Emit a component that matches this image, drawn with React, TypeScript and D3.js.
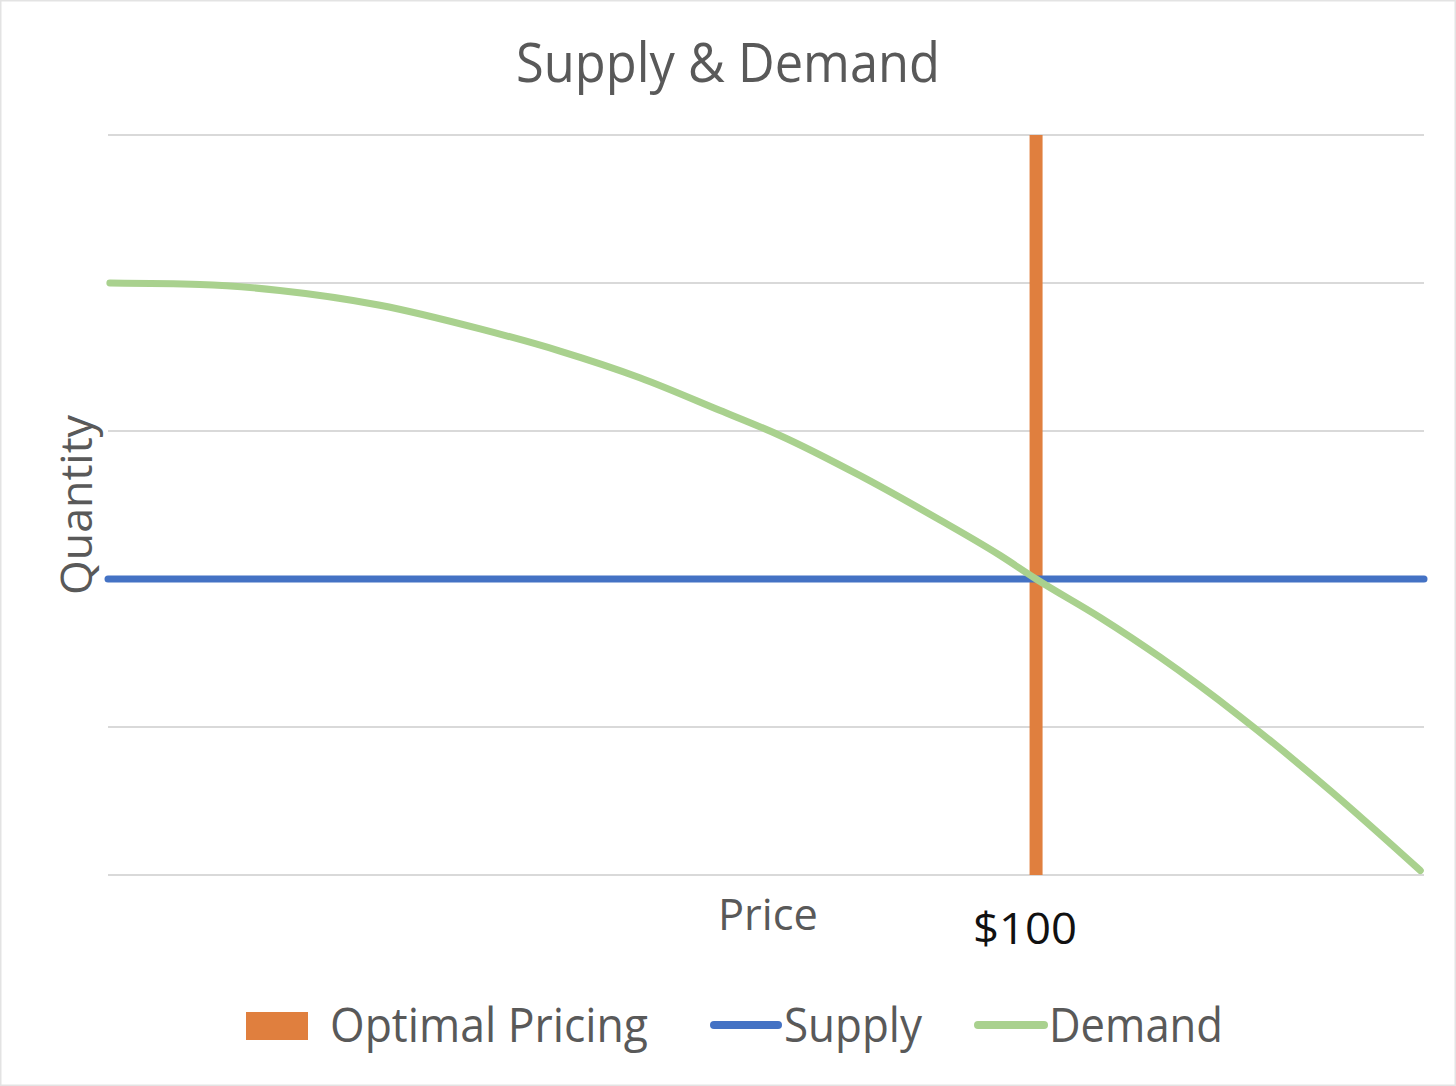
import React from "react";
import * as d3 from "d3";

const title = "Supply & Demand";
const xAxisTitle = "Price";
const yAxisTitle = "Quantity";
const optimalPrice = 100;
const optimalLabel = "$100";
const optimalHeight = 5;
const yTicks = [0, 1, 2, 3, 4, 5];
const supplyPrices = [0, 141.8];
const supplyQty = [2, 2];
const demandPrices = [0.2, 9.9, 18.5, 29.3, 40.1, 48.7, 57.3, 65.9, 72.4, 81.0, 89.6, 96.1, 100, 106.9, 113.4, 122.0, 131.7, 141.4];
const demandQty = [4.0, 3.99, 3.95, 3.85, 3.69, 3.54, 3.36, 3.14, 2.97, 2.7, 2.4, 2.16, 2.0, 1.74, 1.47, 1.07, 0.57, 0.03];
const legendItems = ["Optimal Pricing", "Supply", "Demand"];

const W = 1456;
const H = 1086;
const left = 108;
const right = 1424;
const top = 135;
const bottom = 875;

export default function App() {
  const x = d3.scaleLinear().domain([0, 141.8]).range([left, right]);
  const y = d3.scaleLinear().domain([0, 5]).range([bottom, top]);
  const line = d3
    .line<[number, number]>()
    .x((d) => x(d[0]))
    .y((d) => y(d[1]))
    .curve(d3.curveMonotoneX);
  const supply = supplyPrices.map((p, i) => [p, supplyQty[i]] as [number, number]);
  const demand = demandPrices.map((p, i) => [p, demandQty[i]] as [number, number]);
  const barW = 13;
  const font = "'Open Sans', 'Noto Sans', sans-serif";
  const gray = "#595959";

  return (
    <svg
      width={W}
      height={H}
      style={{ position: "absolute", left: 0, top: 0, background: "#fff" }}
      fontFamily={font}
    >
      <rect x={0.5} y={0.5} width={W - 1} height={H - 1} fill="#fff" stroke="#e3e3e3" strokeWidth={2} />
      <text x={728} y={82} textAnchor="middle" fontSize={54} fill={gray} textLength={424} lengthAdjust="spacingAndGlyphs">
        {title}
      </text>
      {yTicks.map((t) => (
        <line key={t} x1={left} x2={right} y1={y(t)} y2={y(t)} stroke="#d9d9d9" strokeWidth={2} />
      ))}
      <rect
        x={x(optimalPrice) - barW / 2}
        y={y(optimalHeight)}
        width={barW}
        height={y(0) - y(optimalHeight)}
        fill="#E07F3E"
      />
      <path d={line(supply) || ""} fill="none" stroke="#4472C4" strokeWidth={7} strokeLinecap="round" />
      <path d={line(demand) || ""} fill="none" stroke="#A9D18E" strokeWidth={7} strokeLinecap="round" strokeLinejoin="round" />
      <text x={1025} y={944} textAnchor="middle" fontSize={44} fill="#111" textLength={104} lengthAdjust="spacingAndGlyphs">
        {optimalLabel}
      </text>
      <text x={768} y={930} textAnchor="middle" fontSize={44} fill={gray} textLength={100} lengthAdjust="spacingAndGlyphs">
        {xAxisTitle}
      </text>
      <text
        transform={`translate(92,505) rotate(-90)`}
        textAnchor="middle"
        fontSize={44}
        fill={gray}
        textLength={180}
        lengthAdjust="spacingAndGlyphs"
      >
        {yAxisTitle}
      </text>
      <g>
        <rect x={246} y={1012} width={62} height={28} fill="#E07F3E" />
        <text x={330} y={1042} fontSize={48} fill={gray} textLength={318} lengthAdjust="spacingAndGlyphs">
          {legendItems[0]}
        </text>
        <line x1={714} x2={778} y1={1025} y2={1025} stroke="#4472C4" strokeWidth={8} strokeLinecap="round" />
        <text x={784} y={1042} fontSize={48} fill={gray} textLength={138} lengthAdjust="spacingAndGlyphs">
          {legendItems[1]}
        </text>
        <line x1={978} x2={1044} y1={1025} y2={1025} stroke="#A9D18E" strokeWidth={8} strokeLinecap="round" />
        <text x={1049} y={1042} fontSize={48} fill={gray} textLength={174} lengthAdjust="spacingAndGlyphs">
          {legendItems[2]}
        </text>
      </g>
    </svg>
  );
}
